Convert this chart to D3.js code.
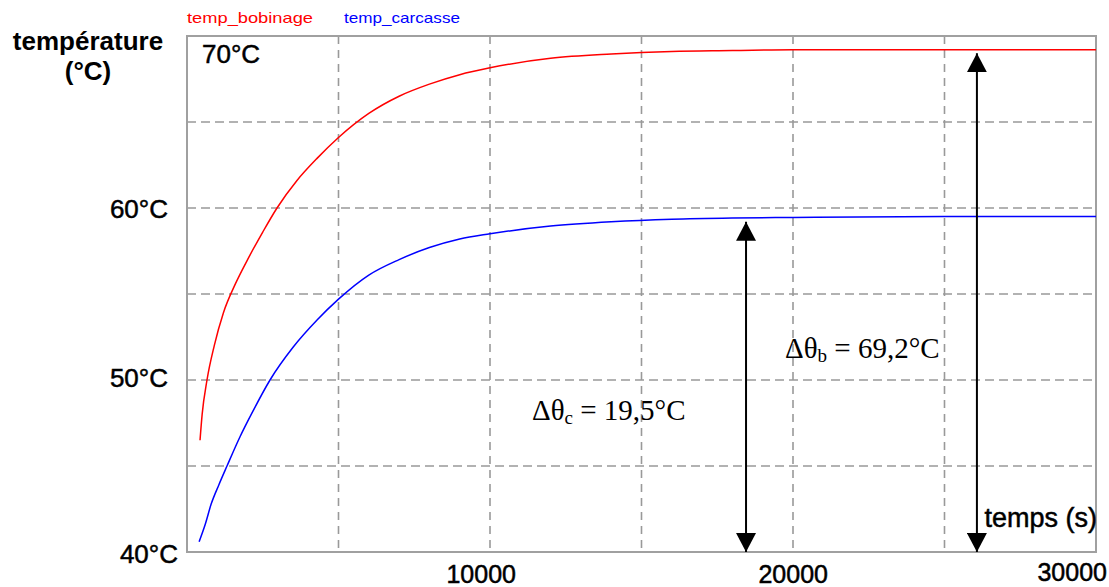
<!DOCTYPE html>
<html>
<head>
<meta charset="utf-8">
<script src="https://cdn.jsdelivr.net/npm/d3@7"></script>
<style>
  body { margin: 0; background: #fff; }
  svg text { font-family: "Liberation Sans", Arial, sans-serif; }
</style>
</head>
<body>
<script>
// ---------------------------------------------------------------------------
// data

var bobinageTime = [430, 500, 660, 900, 1200, 1600, 2000, 2500, 2970, 3630, 4300, 5000, 6000, 7000, 8000, 9000, 10000, 12000, 14000, 16000, 18000, 20000, 25000, 30000];
var bobinageTemp = [46.5, 48.0, 50.0, 52.0, 53.9, 55.6, 57.0, 58.6, 60.0, 61.6, 62.9, 64.1, 65.5, 66.5, 67.2, 67.75, 68.15, 68.7, 68.95, 69.1, 69.15, 69.2, 69.2, 69.2];

var carcasseTime = [400, 600, 800, 1050, 1320, 1750, 2150, 2740, 3500, 4300, 5000, 6000, 7000, 8000, 9000, 10000, 12000, 14000, 16000, 18000, 20000, 25000, 30000];
var carcasseTemp = [40.6, 41.6, 42.8, 43.9, 45.0, 46.7, 48.1, 50.0, 51.9, 53.5, 54.7, 56.1, 57.0, 57.7, 58.2, 58.5, 58.95, 59.2, 59.35, 59.42, 59.45, 59.5, 59.5];

var xGrid = [5000, 10000, 15000, 20000, 25000];
var yGrid = [45, 50, 55, 60, 65];
var xTickValues = [10000, 20000, 30000];
var yTickValues = [40, 50, 60];

// arrows: time, from temp, to temp
var arrowTime = [18450, 26070];
var arrowFrom = [40, 40];
var arrowTo = [59.2, 69.0];

// ---------------------------------------------------------------------------

var totalWidth = 1109;
var totalHeight = 587;

var svg = d3.select('body').append('svg')
    .attr('width', totalWidth)
    .attr('height', totalHeight);

var x = d3.scaleLinear().domain([0, 30000]).range([187, 1096]);
var y = d3.scaleLinear().domain([40, 70]).range([552, 36]);

// grid
svg.append('g').selectAll('line').data(xGrid).enter().append('line')
    .attr('x1', function(d) { return x(d); })
    .attr('x2', function(d) { return x(d); })
    .attr('y1', y(70)).attr('y2', y(40))
    .attr('stroke', '#999').attr('stroke-width', 1.6)
    .attr('stroke-dasharray', '8,6');

svg.append('g').selectAll('line').data(yGrid).enter().append('line')
    .attr('x1', x(0)).attr('x2', x(30000))
    .attr('y1', function(d) { return y(d); })
    .attr('y2', function(d) { return y(d); })
    .attr('stroke', '#999').attr('stroke-width', 1.6)
    .attr('stroke-dasharray', '9,5');

// frame
svg.append('rect')
    .attr('x', x(0)).attr('y', y(70))
    .attr('width', x(30000) - x(0)).attr('height', y(40) - y(70))
    .attr('fill', 'none').attr('stroke', '#a0a0a0').attr('stroke-width', 2);

// curves
var line = d3.line()
    .x(function(d) { return x(d[0]); })
    .y(function(d) { return y(d[1]); })
    .curve(d3.curveMonotoneX);

svg.append('path')
    .datum(d3.zip(bobinageTime, bobinageTemp))
    .attr('d', line)
    .attr('fill', 'none').attr('stroke', '#ff0000').attr('stroke-width', 1.5);

svg.append('path')
    .datum(d3.zip(carcasseTime, carcasseTemp))
    .attr('d', line)
    .attr('fill', 'none').attr('stroke', '#0000ff').attr('stroke-width', 1.5);

// arrows (double headed)
var defs = svg.append('defs');
defs.append('marker').attr('id', 'head')
    .attr('viewBox', '0 0 19 20').attr('refX', 19).attr('refY', 10)
    .attr('markerWidth', 19).attr('markerHeight', 20)
    .attr('markerUnits', 'userSpaceOnUse')
    .attr('orient', 'auto-start-reverse')
    .append('path').attr('d', 'M0,0 L19,10 L0,20 Z').attr('fill', '#000');

svg.append('g').selectAll('line').data(arrowTime).enter().append('line')
    .attr('x1', function(d) { return x(d); })
    .attr('x2', function(d) { return x(d); })
    .attr('y1', function(d, i) { return y(arrowFrom[i]); })
    .attr('y2', function(d, i) { return y(arrowTo[i]); })
    .attr('stroke', '#000').attr('stroke-width', 2)
    .attr('marker-start', 'url(#head)')
    .attr('marker-end', 'url(#head)');

// y tick labels
var yLabelDy = {40: 11, 50: 7, 60: 10};
svg.append('g').selectAll('text').data(yTickValues).enter().append('text')
    .attr('x', function(d) { return d == 40 ? 178 : 168; })
    .attr('y', function(d) { return y(d) + yLabelDy[d]; })
    .attr('text-anchor', 'end')
    .attr('font-size', '26px')
    .attr('stroke', '#000').attr('stroke-width', 0.5)
    .text(function(d) { return d + '°C'; });

svg.append('text').attr('x', 202).attr('y', 63)
    .attr('font-size', '26px')
    .attr('stroke', '#000').attr('stroke-width', 0.5)
    .text('70°C');

// x tick labels
var xLabelDx = {10000: 26, 20000: 35, 30000: 11};
var xLabelY = {10000: 583, 20000: 583, 30000: 581};
svg.append('g').selectAll('text').data(xTickValues).enter().append('text')
    .attr('x', function(d) { return x(d) + xLabelDx[d]; })
    .attr('y', function(d) { return xLabelY[d]; })
    .attr('text-anchor', 'end')
    .attr('font-size', '25px')
    .attr('stroke', '#000').attr('stroke-width', 0.5)
    .text(function(d) { return d; });

// axis titles
svg.append('text').attr('x', 88).attr('y', 50)
    .attr('text-anchor', 'middle')
    .attr('font-size', '26px').attr('font-weight', 'bold')
    .text('température');
svg.append('text').attr('x', 88).attr('y', 80)
    .attr('text-anchor', 'middle')
    .attr('font-size', '26px').attr('font-weight', 'bold')
    .text('(°C)');

svg.append('text').attr('x', 1097).attr('y', 527)
    .attr('text-anchor', 'end')
    .attr('font-size', '27px')
    .attr('stroke', '#000').attr('stroke-width', 0.5)
    .text('temps (s)');

// legend
svg.append('text').attr('x', 187).attr('y', 23)
    .attr('font-family', '"DejaVu Sans", sans-serif')
    .attr('font-size', '15px').attr('fill', '#ff0000')
    .attr('textLength', 126).attr('lengthAdjust', 'spacingAndGlyphs')
    .text('temp_bobinage');
svg.append('text').attr('x', 344).attr('y', 23)
    .attr('font-family', '"DejaVu Sans", sans-serif')
    .attr('font-size', '15px').attr('fill', '#0000ff')
    .attr('textLength', 116).attr('lengthAdjust', 'spacingAndGlyphs')
    .text('temp_carcasse');

// annotations
function annot(px, py, sub, rest) {
    var t = svg.append('text').attr('x', px).attr('y', py)
        .style('font-family', '"Liberation Serif", "Times New Roman", serif')
        .attr('font-size', '29px');
    t.append('tspan').text('Δθ');
    t.append('tspan').attr('font-size', '19px').attr('dy', 4).text(sub);
    t.append('tspan').attr('dy', -4).text(rest);
}
annot(532, 420, 'c', ' = 19,5°C');
annot(785, 358, 'b', ' = 69,2°C');
</script>
</body>
</html>
